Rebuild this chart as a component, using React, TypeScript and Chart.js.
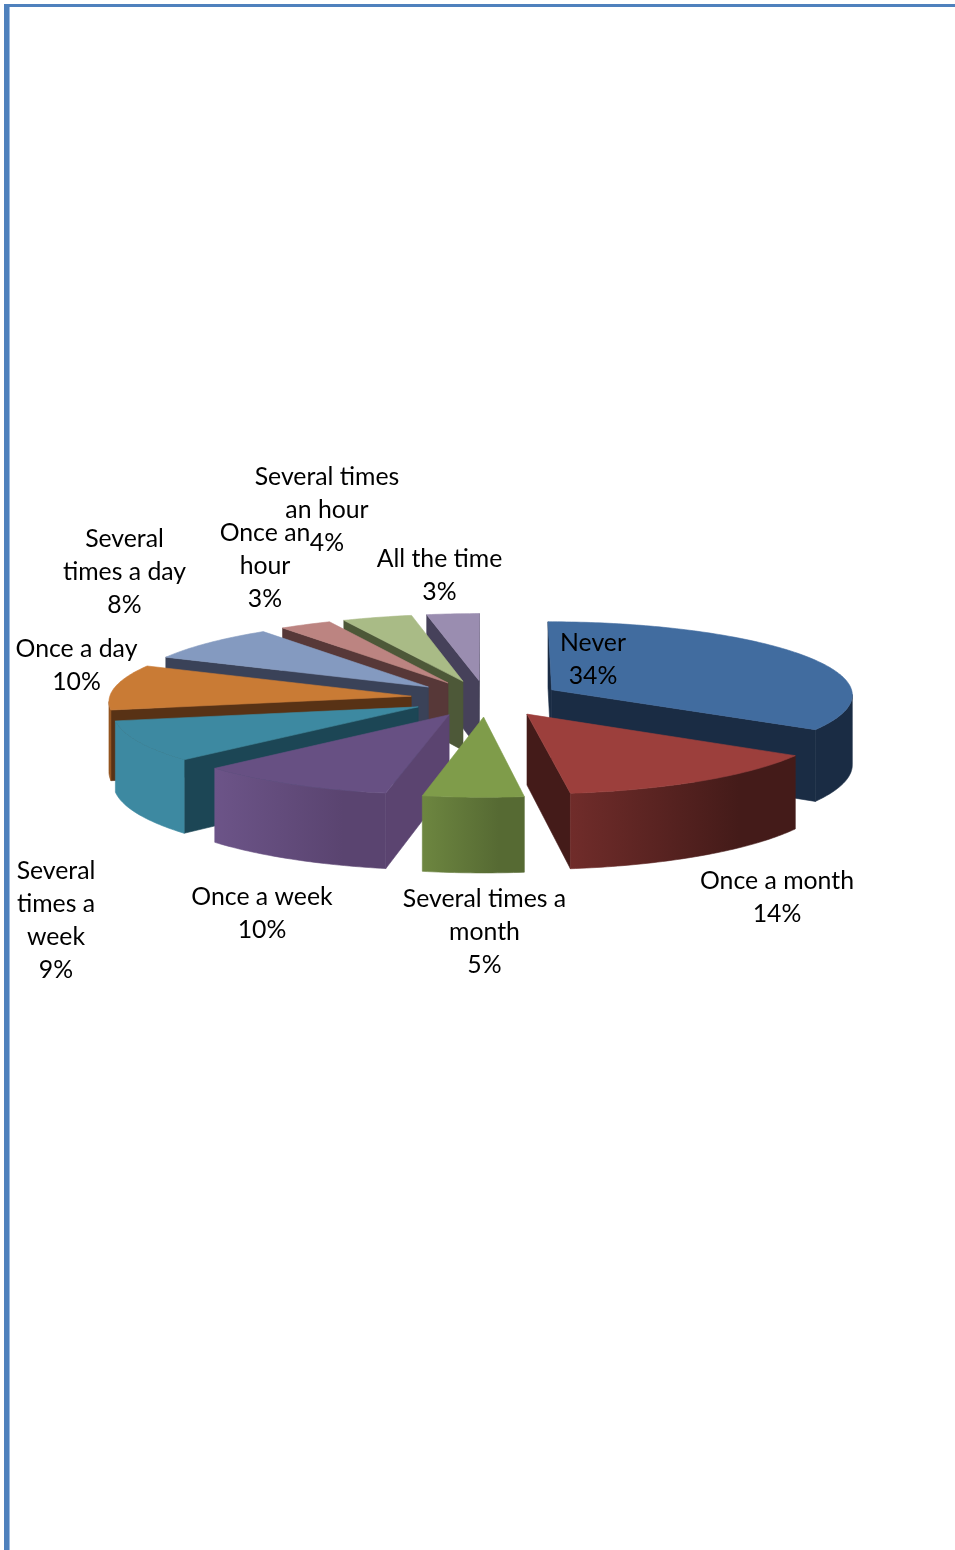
import React, { useEffect, useRef } from "react";
import { Chart, registerables } from "chart.js";

Chart.register(...registerables);

const categories = [
  "Never",
  "Once a month",
  "Several times a month",
  "Once a week",
  "Several times a week",
  "Once a day",
  "Several times a day",
  "Once an hour",
  "Several times an hour",
  "All the time",
];
const shares = [34, 14, 5, 10, 9, 10, 8, 3, 4, 3];
const labelLines = [
  ["Never"],
  ["Once a month"],
  ["Several times a", "month"],
  ["Once a week"],
  ["Several", "times a", "week"],
  ["Once a day"],
  ["Several", "times a day"],
  ["Once an", "hour"],
  ["Several times", "an hour"],
  ["All the time"],
];
// Centre x and first-line centre y of each slice caption.
const labelAnchors = [
  [593, 643],
  [777, 881],
  [484.5, 899],
  [262, 897],
  [56, 871],
  [76.5, 649],
  [124.5, 539],
  [265, 533],
  [327, 477],
  [439.5, 559],
];
const topColors = ["#416c9f", "#9c3f3c", "#7f9c4a", "#675083", "#3d89a1", "#c97b35", "#849ac0", "#bc8481", "#a9bb86", "#9a8db0"];
const cutColors = ["#1a2c44", "#441b19", "#566a33", "#5b4470", "#1c4655", "#583215", "#3a4258", "#573838", "#4d5838", "#46415a"];
const rimLeftColors = ["#1a2c44", "#702c2a", "#6d8640", "#6c5488", "#3d89a1", "#94541f", "#3a4258", "#573838", "#4d5838", "#46415a"];
const rimRightColors = ["#1a2c44", "#441b19", "#566a33", "#5a4470", "#3d89a1", "#94541f", "#3a4258", "#573838", "#4d5838", "#46415a"];

const EXPLODE = 0.25;
const TILT = 0.242;
const PERSPECTIVE = 0.06;
const DEPTH = 70;
const FONT = '24.8px Lato, "Open Sans", sans-serif';
const LINE_HEIGHT = 33;

type Pt = { x: number; y: number };

const pie3d = {
  id: "pie3d",
  beforeDatasetDraw(chart: any) {
    const ctx: CanvasRenderingContext2D = chart.ctx;
    const arcs = chart.getDatasetMeta(0).data;

    const project = (el: any, u: number, v: number, z: number): Pt => {
      const s = 1 / (1 - PERSPECTIVE * v);
      return {
        x: el.x + el.outerRadius * u * s,
        y: el.y + el.outerRadius * TILT * v * s + z * s,
      };
    };
    // A hairline in the fill colour closes the seams between adjoining faces.
    const fillPoly = (pts: Pt[], fill: string | CanvasGradient) => {
      ctx.beginPath();
      pts.forEach((p, i) => (i ? ctx.lineTo(p.x, p.y) : ctx.moveTo(p.x, p.y)));
      ctx.closePath();
      ctx.fillStyle = fill;
      ctx.fill();
      ctx.strokeStyle = fill;
      ctx.lineWidth = 0.6;
      ctx.lineJoin = "round";
      ctx.stroke();
    };

    // Painter's order: slices further from the viewer first.
    const order = arcs
      .map((el: any, i: number) => ({ el, i, mid: (el.startAngle + el.endAngle) / 2 }))
      .sort((a: any, b: any) => Math.sin(a.mid) - Math.sin(b.mid));

    ctx.save();
    for (const { el, i, mid } of order) {
      const du = EXPLODE * Math.cos(mid);
      const dv = EXPLODE * Math.sin(mid);
      const at = (a: number, z: number) => project(el, du + Math.cos(a), dv + Math.sin(a), z);
      const apex = (z: number) => project(el, du, dv, z);

      const steps = Math.max(8, Math.round((el.endAngle - el.startAngle) * 60));
      const angles: number[] = [];
      for (let k = 0; k <= steps; k++) angles.push(el.startAngle + ((el.endAngle - el.startAngle) * k) / steps);

      // Cut faces, only those turned toward the viewer.
      if (at(el.startAngle, 0).x < apex(0).x) {
        fillPoly([apex(0), at(el.startAngle, 0), at(el.startAngle, DEPTH), apex(DEPTH)], cutColors[i]);
      }
      if (at(el.endAngle, 0).x > apex(0).x) {
        fillPoly([apex(0), at(el.endAngle, 0), at(el.endAngle, DEPTH), apex(DEPTH)], cutColors[i]);
      }

      // Curved rim: the run of the arc that moves right to left on screen faces front.
      const front = angles.filter((a, k) => {
        const next = angles[k + 1];
        const prev = angles[k - 1];
        if (next !== undefined && at(next, 0).x < at(a, 0).x) return true;
        return prev !== undefined && at(a, 0).x < at(prev, 0).x;
      });
      if (front.length > 1) {
        const upper = front.map((a) => at(a, 0));
        const lower = front.map((a) => at(a, DEPTH)).reverse();
        const xs = upper.map((p) => p.x);
        const g = ctx.createLinearGradient(Math.min(...xs), 0, Math.max(...xs), 0);
        g.addColorStop(0, rimLeftColors[i]);
        g.addColorStop(0.75, rimRightColors[i]);
        g.addColorStop(1, rimRightColors[i]);
        fillPoly([...upper, ...lower], g);
      }

      // Top face.
      fillPoly([apex(0), ...angles.map((a) => at(a, 0))], topColors[i]);
    }

    // Captions: category lines followed by the share.
    ctx.font = FONT;
    ctx.fillStyle = "#000000";
    ctx.textAlign = "center";
    ctx.textBaseline = "middle";
    shares.forEach((share, i) => {
      const [x, y] = labelAnchors[i];
      [...labelLines[i], `${share}%`].forEach((line, k) => ctx.fillText(line, x, y + k * LINE_HEIGHT));
    });
    ctx.restore();
    return false;
  },
};

export default function App() {
  const ref = useRef<HTMLCanvasElement>(null);

  useEffect(() => {
    const chart = new Chart(ref.current!, {
      type: "pie",
      data: {
        labels: categories,
        datasets: [{ data: shares, backgroundColor: topColors, borderWidth: 0 }],
      },
      options: {
        animation: false,
        responsive: false,
        devicePixelRatio: 1,
        layout: { padding: { left: 184, right: 167, top: 396.5, bottom: 549.5 } },
        plugins: { legend: { display: false }, tooltip: { enabled: false } },
      },
      plugins: [pie3d],
    } as any);
    return () => chart.destroy();
  }, []);

  return (
    <div style={{ position: "absolute", left: 0, top: 0, width: 955, height: 1550, overflow: "hidden", background: "#fff" }}>
      <canvas ref={ref} width={955} height={1550} style={{ position: "absolute", left: 0, top: 0, display: "block" }} />
      <div style={{ position: "absolute", left: 4, top: 4, width: 951, height: 3, background: "#4f81bd" }} />
      <div style={{ position: "absolute", left: 4, top: 4, width: 5, height: 1546, background: "#4f81bd" }} />
      <div style={{ position: "absolute", left: 9, top: 7, width: 1, height: 1543, background: "#9dbbe0" }} />
    </div>
  );
}
